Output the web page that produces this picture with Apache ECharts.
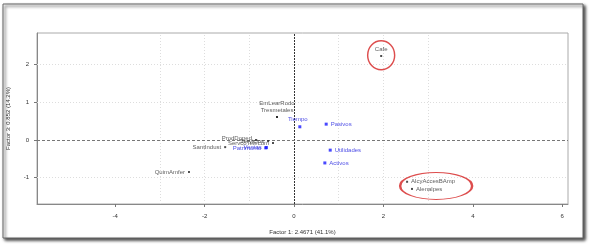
<!DOCTYPE html>
<html><head><meta charset="utf-8">
<script src="https://cdn.jsdelivr.net/npm/echarts@6/dist/echarts.min.js"></script>
<style>html,body{margin:0;padding:0;background:#fff}#c{width:589px;height:245px}</style>
</head><body><div id="c"></div>
<script>
// ---- data ----
const xTicks = [-4, -2, 0, 2, 4, 6];
const yTicks = [-1, 0, 1, 2];
const xGrid = [-3, -2, -1, 1, 2, 3];
const yGrid = [-1, 1, 2];
const firmNames = ['Cafe', 'EmLearRodo', 'Tresmetales', 'AlcyAccesBAmp', 'Alenalpes', 'QuimAmfer', 'SantIndust', 'ProdDoped', 'ServcoTelecom', 'Servicios'];
const firmX = [1.95, -0.38, -0.38, 2.53, 2.64, -2.35, -1.54, -0.85, -0.47, -0.58];
const firmY = [2.23, 0.61, 0.61, -1.11, -1.30, -0.85, -0.19, 0.00, -0.08, -0.03];
const varNames = ['Tiempo', 'Pasivos', 'Utilidades', 'Activos', 'Patrimonio', 'Ventas'];
const varX = [0.13, 0.72, 0.81, 0.69, -0.63, -0.62];
const varY = [0.35, 0.42, -0.27, -0.61, -0.21, -0.20];
const circledX = [1.95, 3.18];
const circledY = [2.25, -1.22];
const xName = 'Factor 1: 2.4671 (41.1%)';
const yName = 'Factor 3: 0.852 (14.2%)';

// ---- styles (kept apart from data) ----
const firmLabelPos = {Cafe:['top',[0,0]], EmLearRodo:['top',[0,-7]], Tresmetales:['top',[0,0]],
  AlcyAccesBAmp:['right',[0,0]], Alenalpes:['right',[0,0]], QuimAmfer:['left',[0,0]],
  SantIndust:['left',[0,0]], ProdDoped:['left',[0,-2]], ServcoTelecom:['left',[0,0]], Servicios:['left',[0,0]]};
const varLabelPos = {Tiempo:['top',[-2,0]], Pasivos:['right',[0,0]], Utilidades:['right',[0,0]], Activos:['right',[0,0]],
  Patrimonio:['left',[0,0]], Ventas:['left',[0,0]]};
const circleSizes = [[27, 29], [72, 27]];
const FONT = 'Liberation Sans';

const chart = echarts.init(document.getElementById('c'), null, {renderer: 'canvas'});
const firmData = firmNames.map((n, i) => ({
  value: [firmX[i], firmY[i]], name: n,
  label: {position: firmLabelPos[n][0], offset: firmLabelPos[n][1]}
}));
const varData = varNames.map((n, i) => ({
  value: [varX[i], varY[i]], name: n,
  label: {position: varLabelPos[n][0], offset: varLabelPos[n][1]}
}));
const circleData = circledX.map((x, i) => ({value: [x, circledY[i]], symbolSize: circleSizes[i]}));

chart.setOption({
  animation: false,
  backgroundColor: '#fff',
  graphic: [{
    type: 'rect', z: -10, silent: true,
    shape: {x: 3, y: 4, width: 580, height: 234},
    style: {fill: '#fff', stroke: '#666', lineWidth: 1, shadowBlur: 3, shadowOffsetX: 2, shadowOffsetY: 2, shadowColor: 'rgba(0,0,0,0.75)'}
  }],
  grid: {left: 37, right: 21, top: 33, bottom: 41, outerBoundsMode: 'none', containLabel: false,
    show: true, borderColor: '#aaa', borderWidth: 1, backgroundColor: 'transparent'},
  xAxis: {
    type: 'value', min: -5.75, max: 6.13,
    name: xName, nameLocation: 'middle', nameGap: 25,
    nameTextStyle: {fontFamily: FONT, fontSize: 6, color: '#333'},
    axisLine: {show: true, onZero: false, lineStyle: {color: '#888', width: 1}},
    axisTick: {show: true, length: 3, customValues: xTicks, lineStyle: {color: '#777'}},
    axisLabel: {customValues: xTicks, fontFamily: FONT, fontSize: 6, color: '#333', margin: 9},
    splitLine: {show: false}
  },
  yAxis: {
    type: 'value', min: -1.70, max: 2.84,
    name: yName, nameLocation: 'middle', nameGap: 26, nameRotate: 90,
    nameTextStyle: {fontFamily: FONT, fontSize: 6, color: '#333'},
    axisLine: {show: true, onZero: false, lineStyle: {color: '#888', width: 1}},
    axisTick: {show: true, length: 3, customValues: yTicks, lineStyle: {color: '#777'}},
    axisLabel: {customValues: yTicks, fontFamily: FONT, fontSize: 6, color: '#333', margin: 8},
    splitLine: {show: false}
  },
  series: [
    {
      type: 'scatter', name: 'grid', data: [], silent: true, z: 1,
      markLine: {
        silent: true, symbol: 'none', label: {show: false},
        data: [
          ...xGrid.map(v => ({xAxis: v, lineStyle: {color: '#ddd', type: [1, 2], width: 1}})),
          ...yGrid.map(v => ({yAxis: v, lineStyle: {color: '#ddd', type: [1, 2], width: 1}})),
          {xAxis: 0, lineStyle: {color: '#333', type: [2, 1], width: 1}},
          {yAxis: 0, lineStyle: {color: '#777', type: [3, 2], width: 1}}
        ]
      }
    },
    {
      type: 'scatter', name: 'firms', data: firmData, symbol: 'rect', symbolSize: 2, z: 5,
      itemStyle: {color: '#222'},
      label: {show: true, formatter: p => p.name, fontFamily: FONT, fontSize: 6, color: '#333', distance: 3}
    },
    {
      type: 'scatter', name: 'vars', data: varData, symbol: 'rect', symbolSize: 3, z: 5,
      itemStyle: {color: '#1a1aff'},
      label: {show: true, formatter: p => p.name, fontFamily: FONT, fontSize: 6, color: '#2020e0', distance: 3}
    },
    {
      type: 'scatter', name: 'circles', data: circleData, symbol: 'circle', z: 6, silent: true,
      itemStyle: {color: 'rgba(0,0,0,0)', borderColor: '#d42020', borderWidth: 1.5}
    }
  ]
});
</script></body></html>
